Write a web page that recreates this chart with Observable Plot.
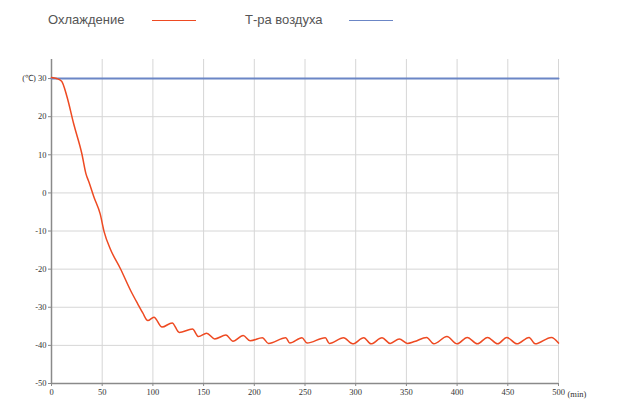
<!DOCTYPE html>
<html>
<head>
<meta charset="utf-8">
<script src="https://cdn.jsdelivr.net/npm/d3@7"></script>
<script src="https://cdn.jsdelivr.net/npm/@observablehq/plot@0.6"></script>
<style>
  html, body { margin: 0; padding: 0; background: #fff; }
  #wrap { width: 617px; height: 413px; position: relative; overflow: hidden; }
  #legend { position: relative; height: 40px; width: 617px; font-family: "Liberation Sans", Arial, sans-serif; font-size: 13px; color: #555; }
  .lt { position: absolute; top: 12px; }
  .ll { position: absolute; top: 20px; height: 0; border-top: 1.5px solid; }
</style>
</head>
<body>
<div id="wrap">
  <div id="legend"></div>
  <div id="chart"></div>
</div>
<script>
// Series names & colors
const seriesNames = ["Охлаждение", "Т-ра воздуха"];
const seriesColors = ["#ee4a22", "#6b86c6"];

// Time (min) and cooling temperature (°C)
const minutes = [0, 5, 10, 15, 22, 30, 34, 37, 42, 48, 52, 58, 68, 78, 85, 90, 95, 101, 109, 119, 126, 139, 145, 153, 161, 172, 179, 189, 196, 208, 214, 231, 235, 247, 252, 270, 274, 288, 297, 308, 315, 326, 334, 343, 351, 358, 370, 377, 390, 400, 410, 420, 430, 440, 449, 459, 471, 477, 493, 500];
const cooling = [30.3, 30, 29.3, 25.5, 18, 10.2, 5, 2.8, -1.2, -5.5, -10.3, -14.7, -19.9, -25.6, -29.1, -31.5, -33.5, -32.6, -35.2, -34.1, -36.6, -35.7, -37.7, -36.8, -38.3, -37.3, -38.9, -37.4, -38.8, -38, -39.5, -38, -39.4, -38, -39.4, -38, -39.5, -38, -39.6, -38, -39.6, -38, -39.5, -38.3, -39.5, -39, -37.9, -39.6, -37.7, -39.6, -37.9, -39.6, -37.9, -39.6, -37.9, -39.6, -37.9, -39.6, -37.9, -39.4];

// Air temperature (constant)
const airMinutes = [0, 500];
const airTemp = [30, 30];

// Axis ticks
const xTicks = [0, 50, 100, 150, 200, 250, 300, 350, 400, 450, 500];
const yTicks = [-50, -40, -30, -20, -10, 0, 10, 20, 30];

// Legend (HTML)
const legend = document.getElementById("legend");
const legendPos = [{t: 48, l: 152}, {t: 245, l: 349}];
seriesNames.forEach((n, i) => {
  const s = document.createElement("span");
  s.className = "lt"; s.style.left = legendPos[i].t + "px"; s.textContent = n;
  legend.appendChild(s);
  const l = document.createElement("span");
  l.className = "ll"; l.style.left = legendPos[i].l + "px"; l.style.width = "44px";
  l.style.borderColor = seriesColors[i];
  legend.appendChild(l);
});

const coolData = minutes.map((t, i) => ({t, v: cooling[i]}));
const airData = airMinutes.map((t, i) => ({t, v: airTemp[i]}));

const chart = Plot.plot({
  width: 617,
  height: 373,
  marginTop: 19,
  marginBottom: 30,
  marginLeft: 51,
  marginRight: 59,
  style: {fontFamily: "'Liberation Serif', 'Times New Roman', serif", fontSize: "8.5px", color: "#333", background: "transparent"},
  x: {domain: [0, 500], ticks: xTicks},
  y: {domain: [-50, 35], ticks: yTicks},
  marks: [
    Plot.gridX(xTicks.filter(d => d > 0), {stroke: "#d6d6d6", strokeOpacity: 1, strokeWidth: 1}),
    Plot.gridY(yTicks.filter(d => d > -50), {stroke: "#d6d6d6", strokeOpacity: 1, strokeWidth: 1}),
    Plot.axisX({ticks: xTicks, tickSize: 3, tickPadding: 2, label: null, stroke: "#888"}),
    Plot.axisY({ticks: yTicks, tickSize: 3, tickPadding: 2, label: null, stroke: "#888",
      tickFormat: d => d === 30 ? "(℃) 30" : String(d)}),
    Plot.text(["(min)"], {x: 500, y: -50, text: d => d, dx: 9, dy: 11, textAnchor: "start", fill: "#333"}),
    Plot.ruleX([0], {stroke: "#8a8a8a", strokeWidth: 1.5}),
    Plot.ruleY([-50], {stroke: "#8a8a8a", strokeWidth: 1.5}),
    Plot.line(airData, {x: "t", y: "v", stroke: seriesColors[1], strokeWidth: 2}),
    Plot.line(coolData, {x: "t", y: "v", stroke: seriesColors[0], strokeWidth: 1.5, curve: "monotone-x"})
  ]
});
document.getElementById("chart").appendChild(chart);
</script>
</body>
</html>
